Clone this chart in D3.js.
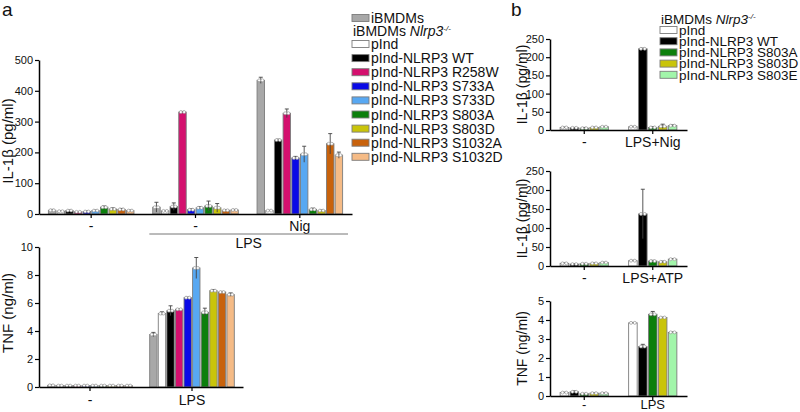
<!DOCTYPE html>
<html>
<head>
<meta charset="utf-8">
<script src="https://cdn.jsdelivr.net/npm/d3@7"></script>
<style>
  body { margin: 0; background: #fff; }
  text { font-family: "Liberation Sans", Arial, sans-serif; fill: #111; }
</style>
</head>
<body>
<script>
// panel a series
const seriesA = ["iBMDMs", "pInd", "pInd-NLRP3 WT", "pInd-NLRP3 R258W", "pInd-NLRP3 S733A", "pInd-NLRP3 S733D",
  "pInd-NLRP3 S803A", "pInd-NLRP3 S803D", "pInd-NLRP3 S1032A", "pInd-NLRP3 S1032D"];
const colorsA = ["#a8a8a8", "#ffffff", "#000000", "#d4106e", "#0a0ae6", "#58a8f2", "#0c7f0c", "#c9c40a", "#c8620c", "#f5bb86"];

// IL-1b (pg/ml), panel a: untreated / LPS / LPS+Nig
const groupsA = ["-", "-", "Nig"];
const il1bA = [
  [12, 9, 11, 7, 8, 11, 22, 16, 15, 11],
  [22, 10, 24, 331, 14, 20, 26, 20, 12, 13],
  [434, 11, 240, 327, 182, 194, 15, 11, 228, 191]
];
const il1bAErr = [
  [3, 1, 2, 1, 2, 2, 4, 4, 3, 2],
  [16, 1, 12, 2, 3, 4, 16, 14, 2, 2],
  [10, 1, 3, 14, 5, 26, 4, 2, 33, 10]
];

// TNF (ng/ml), panel a
const tnfGroupsA = ["-", "LPS"];
const tnfA = [
  [0.12, 0.1, 0.1, 0.1, 0.1, 0.1, 0.1, 0.1, 0.1, 0.1],
  [3.75, 5.25, 5.45, 5.55, 6.38, 8.5, 5.33, 6.88, 6.78, 6.6]
];
const tnfAErr = [
  [0.03, 0.02, 0.02, 0.02, 0.02, 0.02, 0.02, 0.02, 0.02, 0.02],
  [0.15, 0.12, 0.35, 0.03, 0.04, 0.75, 0.3, 0.07, 0.05, 0.12]
];

// panel b series
const seriesB = ["pInd", "pInd-NLRP3 WT", "pInd-NLRP3 S803A", "pInd-NLRP3 S803D", "pInd-NLRP3 S803E"];
const colorsB = ["#ffffff", "#000000", "#0c7f0c", "#c9c40a", "#a2f5aa"];

const groupsNig = ["-", "LPS+Nig"];
const il1bNig = [[7, 6, 5, 7, 9], [9, 223, 7, 10, 12]];
const il1bNigErr = [[1, 1, 2, 1, 1], [1, 2, 2, 6, 2]];

const groupsAtp = ["-", "LPS+ATP"];
const il1bAtp = [[7, 5, 6, 7, 9], [14, 137, 13, 11, 18]];
const il1bAtpErr = [[1, 1, 1, 1, 1], [1, 65, 2, 2, 1]];

const groupsTnfB = ["-", "LPS"];
const tnfB = [[0.18, 0.22, 0.12, 0.15, 0.15], [3.85, 2.6, 4.3, 4.13, 3.35]];
const tnfBErr = [[0.02, 0.05, 0.02, 0.01, 0.01], [0.02, 0.12, 0.15, 0.02, 0.02]];

const il1bTicksA = [0, 100, 200, 300, 400, 500];
const tnfTicksA = [0, 2, 4, 6, 8, 10];
const il1bTicksB = [0, 50, 100, 150, 200, 250];
const tnfTicksB = [0, 1, 2, 3, 4, 5];

const svg = d3.select("body").append("svg").attr("width", 800).attr("height", 412);

// draws one grouped bar chart with error bars
function barPanel(o) {
  const x = d3.scaleBand().domain(d3.range(o.groups.length)).range([o.left, o.right]);
  const y = d3.scaleLinear().domain([0, o.max]).range([o.bottom, o.top]);
  const g = svg.append("g");

  o.values.forEach((vals, gi) => {
    const c = x(gi) + x.bandwidth() / 2;
    const inner = d3.scaleBand().domain(d3.range(vals.length))
      .range([c - o.groupWidth / 2, c + o.groupWidth / 2]).padding(0.14);
    const bw = inner.bandwidth();
    const data = vals.map((v, i) => ({ i, v, e: o.errs[gi][i] }));

    g.selectAll(null).data(data).enter().append("rect")
      .attr("x", d => inner(d.i))
      .attr("y", d => y(d.v))
      .attr("width", bw)
      .attr("height", d => y(0) - y(d.v))
      .attr("fill", d => o.colors[d.i])
      .attr("stroke", "#7c7c7c")
      .attr("stroke-width", 0.9);

    const eb = g.selectAll(null).data(data).enter().append("g").attr("stroke", "#444").attr("stroke-width", 0.9);
    eb.append("line")
      .attr("x1", d => inner(d.i) + bw / 2).attr("x2", d => inner(d.i) + bw / 2)
      .attr("y1", d => y(Math.max(0, d.v - d.e))).attr("y2", d => y(d.v + d.e));
    eb.append("line")
      .attr("x1", d => inner(d.i) + bw / 2 - 2).attr("x2", d => inner(d.i) + bw / 2 + 2)
      .attr("y1", d => y(d.v + d.e)).attr("y2", d => y(d.v + d.e));

    // replicate dots sit around the bar top
    g.selectAll(null).data(data.flatMap(d => [{ ...d, s: -1 }, { ...d, s: 1 }])).enter().append("circle")
      .attr("cx", d => inner(d.i) + bw / 2 + d.s * bw * 0.22)
      .attr("cy", d => y(d.v))
      .attr("r", 1.5)
      .attr("fill", "#fff")
      .attr("stroke", "#888")
      .attr("stroke-width", 0.6);
  });

  const yAxis = g.append("g").attr("transform", `translate(${o.left},0)`)
    .call(d3.axisLeft(y).tickValues(o.ticks).tickFormat(d => d).tickSize(4).tickPadding(2).tickSizeOuter(0));
  yAxis.selectAll("text").style("font-size", "11px").attr("fill", "#222");
  yAxis.select(".domain").attr("stroke-width", 1.5);
  yAxis.selectAll(".tick line").attr("stroke-width", 1.2);

  const xAxis = g.append("g").attr("transform", `translate(0,${o.bottom})`)
    .call(d3.axisBottom(x).tickFormat(i => o.groups[i]).tickSize(4).tickPadding(o.labelPad).tickSizeOuter(0));
  xAxis.selectAll("text").style("font-size", o.labelSize + "px").attr("fill", "#222");
  xAxis.select(".domain").attr("stroke-width", 1.5);
  xAxis.selectAll(".tick line").attr("stroke-width", 1.2);

  g.append("text")
    .attr("transform", `translate(${o.titleX},${(o.top + o.bottom) / 2 + o.titleShift}) rotate(-90)`)
    .attr("text-anchor", "middle")
    .style("font-size", o.titleSize + "px")
    .text(o.title);
  return { x, y };
}

// panel a, IL-1b
const a1 = barPanel({ groups: groupsA, values: il1bA, errs: il1bAErr, colors: colorsA, max: 500, ticks: il1bTicksA,
  left: 39, right: 352, top: 60, bottom: 214, groupWidth: 88, labelPad: 3, labelSize: 14,
  title: "IL-1β (pg/ml)", titleX: 13, titleShift: 4, titleSize: 15 });

// LPS bracket under the last two groups
const lpsL = a1.x(1) + 6, lpsR = a1.x(2) + a1.x.bandwidth() - 4;
svg.append("line").attr("x1", lpsL).attr("x2", lpsR).attr("y1", 234).attr("y2", 234).attr("stroke", "#777").attr("stroke-width", 1);
svg.append("text").attr("x", (lpsL + lpsR) / 2).attr("y", 248).attr("text-anchor", "middle").style("font-size", "14px").text("LPS");

// panel a, TNF
barPanel({ groups: tnfGroupsA, values: tnfA, errs: tnfAErr, colors: colorsA, max: 10, ticks: tnfTicksA,
  left: 39, right: 243, top: 247, bottom: 387, groupWidth: 87, labelPad: 4, labelSize: 14,
  title: "TNF (ng/ml)", titleX: 13, titleShift: -4, titleSize: 15 });

// panel b
barPanel({ groups: groupsNig, values: il1bNig, errs: il1bNigErr, colors: colorsB, max: 250, ticks: il1bTicksB,
  left: 550, right: 687, top: 39, bottom: 130, groupWidth: 51, labelPad: 3, labelSize: 14,
  title: "IL-1β (pg/ml)", titleX: 527, titleShift: 0, titleSize: 14 });
barPanel({ groups: groupsAtp, values: il1bAtp, errs: il1bAtpErr, colors: colorsB, max: 250, ticks: il1bTicksB,
  left: 550, right: 687, top: 171, bottom: 266, groupWidth: 51, labelPad: 3, labelSize: 14,
  title: "IL-1β (pg/ml)", titleX: 527, titleShift: 0, titleSize: 14 });
barPanel({ groups: groupsTnfB, values: tnfB, errs: tnfBErr, colors: colorsB, max: 5, ticks: tnfTicksB,
  left: 550, right: 687, top: 301, bottom: 396, groupWidth: 51, labelPad: 0, labelSize: 13,
  title: "TNF (ng/ml)", titleX: 527, titleShift: 0, titleSize: 14 });

// panel letters
svg.append("text").attr("x", 2).attr("y", 16).style("font-size", "19px").text("a");
svg.append("text").attr("x", 511).attr("y", 16).style("font-size", "19px").text("b");

// legends
function legend(x, rowY, step, series, colors, titleY, size) {
  const t = svg.append("text").attr("x", x + 1).attr("y", titleY).style("font-size", size + "px");
  t.append("tspan").text("iBMDMs ");
  t.append("tspan").style("font-style", "italic").text("Nlrp3");
  t.append("tspan").attr("dy", -5).style("font-size", "8px").style("font-style", "italic").text("-/-");
  series.forEach((s, i) => {
    const cy = rowY + i * step;
    svg.append("rect").attr("x", x).attr("y", cy - 3.5).attr("width", 17).attr("height", 7)
      .attr("fill", colors[i]).attr("stroke", "#7c7c7c").attr("stroke-width", 0.9);
    svg.append("text").attr("x", x + 19).attr("y", cy + size * 0.36).style("font-size", size + "px").text(s);
  });
}

// legend a: the first entry stands above the Nlrp3-/- heading
svg.append("rect").attr("x", 352).attr("y", 14.5).attr("width", 17).attr("height", 7)
  .attr("fill", colorsA[0]).attr("stroke", "#7c7c7c").attr("stroke-width", 0.9);
svg.append("text").attr("x", 371).attr("y", 23).style("font-size", "14px").text(seriesA[0]);
legend(352, 44, 14.1, seriesA.slice(1), colorsA.slice(1), 36, 14);

legend(660, 30, 11.2, seriesB, colorsB, 24, 13.5);
</script>
</body>
</html>
